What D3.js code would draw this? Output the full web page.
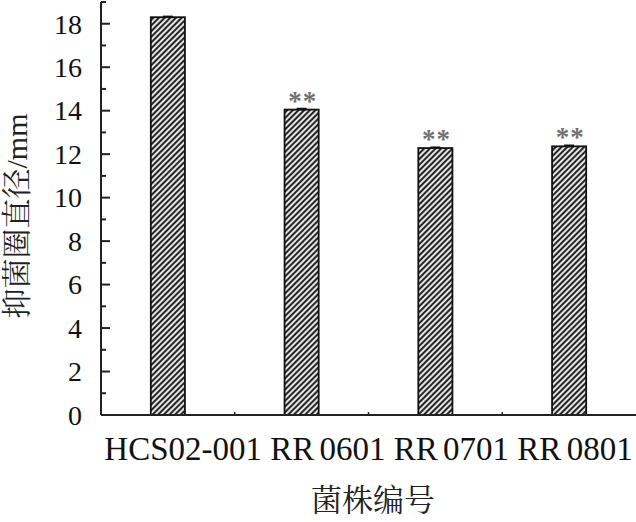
<!DOCTYPE html>
<html>
<head>
<meta charset="utf-8">
<script src="https://cdnjs.cloudflare.com/ajax/libs/d3/7.8.5/d3.min.js"></script>
<style>
  body { margin: 0; background: #fff; }
  svg { display: block; }
</style>
</head>
<body>
<div id="chart"></div>
<script>
// Data
const strains = ["HCS02-001", "RR 0601", "RR 0701", "RR 0801"];
const diameters = [18.3, 14.05, 12.28, 12.36];
const errors = [0.04, 0.05, 0.04, 0.05];
const marks = ["", "**", "**", "**"];
const yTicks = [0, 2, 4, 6, 8, 10, 12, 14, 16, 18];

const width = 636, height = 522;
const margin = { top: 2, right: 0, bottom: 107, left: 101 };

const serif = "'Liberation Serif', 'Times New Roman', serif";
const cjk = "'Liberation Serif', 'Noto Serif CJK SC', 'Noto Sans CJK SC', serif";

const svg = d3.select("#chart")
  .append("svg")
    .attr("width", width)
    .attr("height", height);

// Hatch pattern
const pattern = svg.append("defs")
  .append("pattern")
    .attr("id", "hatch")
    .attr("patternUnits", "userSpaceOnUse")
    .attr("width", 4)
    .attr("height", 4)
    .attr("patternTransform", "rotate(45)");
pattern.append("rect")
    .attr("width", 4).attr("height", 4)
    .attr("fill", "#e4e4e4");
pattern.append("rect")
    .attr("width", 2).attr("height", 4)
    .attr("fill", "#262626");

// Scales
const x = d3.scaleBand()
    .domain(strains)
    .range([margin.left, width - margin.right])
    .paddingInner(0.745)
    .paddingOuter(0.745 / 2);

const y = d3.scaleLinear()
    .domain([0, 19])
    .range([height - margin.bottom, margin.top]);

// Bars
const data = strains.map((d, i) => ({ name: d, value: diameters[i], err: errors[i], mark: marks[i] }));

svg.append("g")
  .selectAll("rect")
  .data(data)
  .join("rect")
    .attr("x", d => x(d.name))
    .attr("y", d => y(d.value))
    .attr("width", x.bandwidth())
    .attr("height", d => y(0) - y(d.value))
    .attr("fill", "url(#hatch)")
    .attr("stroke", "#111")
    .attr("stroke-width", 1.8);

// Error bars
const errG = svg.append("g")
  .selectAll("g")
  .data(data)
  .join("g")
    .attr("stroke", "#111")
    .attr("stroke-width", 1.5);
errG.append("line")
    .attr("x1", d => x(d.name) + x.bandwidth() / 2)
    .attr("x2", d => x(d.name) + x.bandwidth() / 2)
    .attr("y1", d => y(d.value - d.err))
    .attr("y2", d => y(d.value + d.err));
errG.append("line")
    .attr("x1", d => x(d.name) + x.bandwidth() / 2 - 5)
    .attr("x2", d => x(d.name) + x.bandwidth() / 2 + 5)
    .attr("y1", d => y(d.value + d.err))
    .attr("y2", d => y(d.value + d.err));

// Significance marks
svg.append("g")
  .selectAll("text")
  .data(data)
  .join("text")
    .attr("x", d => x(d.name) + x.bandwidth() / 2 + 1)
    .attr("y", d => y(d.value + d.err) + 1)
    .attr("text-anchor", "middle")
    .attr("font-family", serif)
    .attr("font-weight", "bold")
    .attr("font-size", 27)
    .attr("fill", "#707070")
    .attr("letter-spacing", 1)
    .text(d => d.mark);

// Y axis
const yAxis = svg.append("g")
    .attr("transform", `translate(${margin.left},0)`);
yAxis.append("line")
    .attr("y1", y(0)).attr("y2", y(19))
    .attr("stroke", "#222").attr("stroke-width", 2);
yAxis.selectAll(".major")
  .data(yTicks)
  .join("line")
    .attr("class", "major")
    .attr("x1", 0).attr("x2", 9)
    .attr("y1", d => y(d)).attr("y2", d => y(d))
    .attr("stroke", "#222").attr("stroke-width", 2);
yAxis.selectAll(".minor")
  .data(yTicks.map(d => d + 1))
  .join("line")
    .attr("class", "minor")
    .attr("x1", 0).attr("x2", 5)
    .attr("y1", d => y(d)).attr("y2", d => y(d))
    .attr("stroke", "#222").attr("stroke-width", 2);
yAxis.selectAll("text")
  .data(yTicks)
  .join("text")
    .attr("x", -19)
    .attr("y", d => y(d))
    .attr("dy", "0.35em")
    .attr("text-anchor", "end")
    .attr("font-family", serif)
    .attr("font-size", 28)
    .attr("fill", "#111")
    .text(d => d);

// X axis
const xAxis = svg.append("g")
    .attr("transform", `translate(0,${y(0)})`);
xAxis.append("line")
    .attr("x1", margin.left).attr("x2", width)
    .attr("stroke", "#222").attr("stroke-width", 2);
xAxis.selectAll(".sep")
  .data(strains.slice(1))
  .join("line")
    .attr("class", "sep")
    .attr("x1", d => x(d) - x.step() * x.paddingInner() / 2)
    .attr("x2", d => x(d) - x.step() * x.paddingInner() / 2)
    .attr("y1", 0).attr("y2", -3)
    .attr("stroke", "#222").attr("stroke-width", 1.5);

// Category labels run as one line under the axis, as in the original
const labelRow = xAxis.append("text")
    .attr("x", d3.mean(x.range()))
    .attr("y", 45)
    .attr("text-anchor", "middle")
    .attr("font-family", serif)
    .attr("font-size", 33)
    .attr("fill", "#111")
    .attr("word-spacing", -3);
labelRow.selectAll("tspan")
  .data(strains)
  .join("tspan")
    .attr("dx", (d, i) => i === 0 ? 0 : 3)
    .text((d, i) => (i === 0 ? "" : " ") + d);

// Axis titles
svg.append("text")
    .attr("x", 373)
    .attr("y", 511)
    .attr("text-anchor", "middle")
    .attr("font-family", cjk)
    .attr("font-size", 31)
    .attr("fill", "#222")
    .text("菌株编号");

svg.append("text")
    .attr("transform", `translate(27,216) rotate(-90)`)
    .attr("text-anchor", "middle")
    .attr("font-family", cjk)
    .attr("font-size", 30)
    .attr("fill", "#222")
    .text("抑菌圈直径/mm");
</script>
</body>
</html>
